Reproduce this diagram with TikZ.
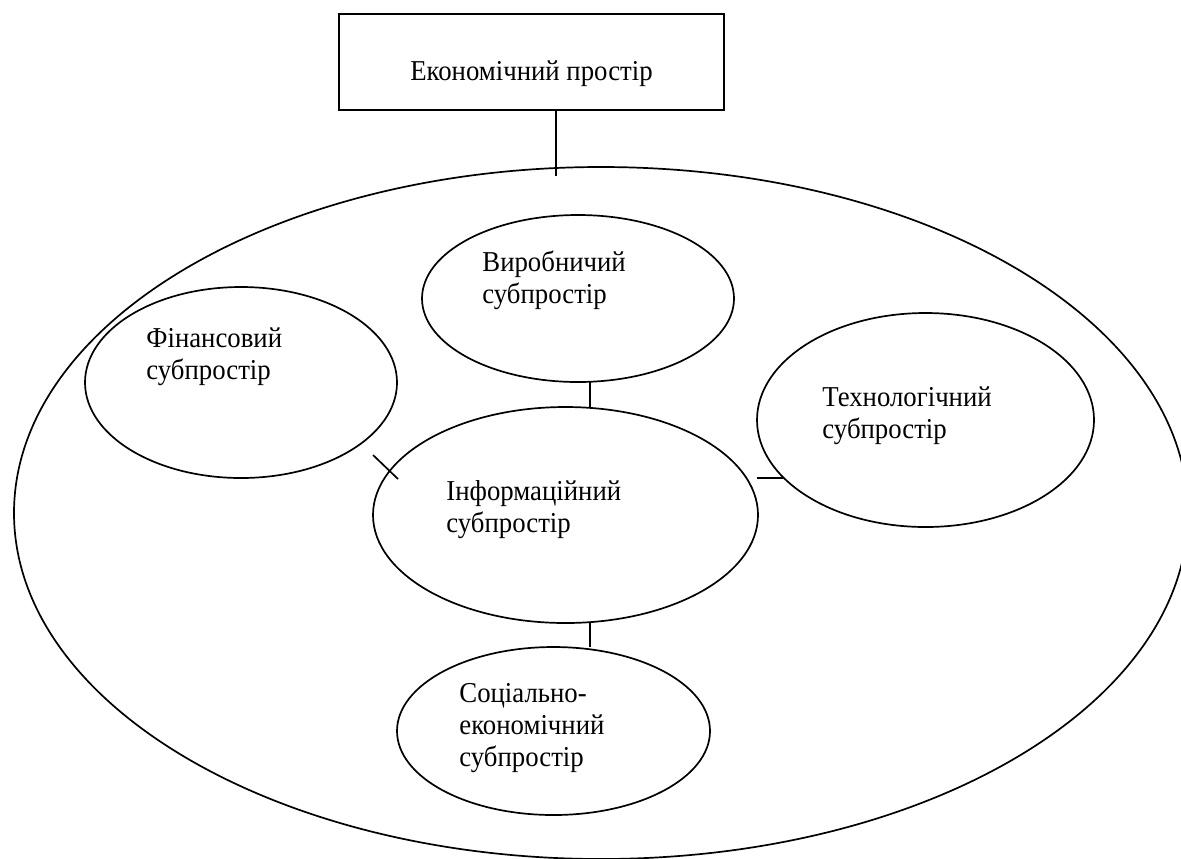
\documentclass[tikz,border=0pt]{standalone}
\usepackage{fontspec}
\setmainfont{Liberation Serif}[FakeStretch=0.93]
\usetikzlibrary{shapes.geometric}
\newcommand{\twoline}[2]{\begin{tabular}[t]{@{}l@{}}#1\\#2\end{tabular}}
\newcommand{\threeline}[3]{\begin{tabular}[t]{@{}l@{}}#1\\#2\\#3\end{tabular}}
\begin{document}
\begin{tikzpicture}[x=0.5pt,y=-0.5pt,
  ln/.style={line width=0.85pt, draw=black},
  oval/.style={ellipse, ln, inner sep=0pt, outer sep=0pt},
  lbl/.style={anchor=base west, inner sep=0pt, font=\fontsize{14.4}{16}\selectfont},
]
\useasboundingbox (0,0) rectangle (1181,858);
\clip (0,0) rectangle (1181,858);
% top box
\node[ln, rectangle, minimum width=192.5pt, minimum height=48pt, inner sep=0pt, outer sep=0pt,
      text height=20pt, text depth=2pt, font=\fontsize{14.4}{16}\selectfont] (eco) at (531.5,62) {Економічний простір};
% outer ellipse
\node[oval, minimum width=587pt, minimum height=346pt] (big) at (601,513) {};
% sub-spaces
\node[oval, minimum width=156pt, minimum height=83.5pt] (prod) at (578,298.5) {};
\node[oval, minimum width=156pt, minimum height=95.5pt] (fin) at (241,382.5) {};
\node[oval, minimum width=168.5pt, minimum height=107pt] (tech) at (925.5,420) {};
\node[oval, minimum width=192.5pt, minimum height=108pt] (info) at (565.5,515) {};
\node[oval, minimum width=156.5pt, minimum height=84pt] (soc) at (553.5,731) {};
% labels
\node[lbl] (prodt) at (482,271) {\twoline{Виробничий}{субпростір}};
\node[lbl] (fint) at (146,347) {\twoline{Фінансовий}{субпростір}};
\node[lbl] (techt) at (822,406) {\twoline{Технологічний}{субпростір}};
\node[lbl] (infot) at (446,500) {\twoline{Інформаційний}{субпростір}};
\node[lbl] (soct) at (459,702) {\threeline{Соціально-}{економічний}{субпростір}};
% connectors
\coordinate (ecoend) at (556,176);
\coordinate (vx) at (590,0);
\coordinate (d1) at (373,455);
\coordinate (d2) at (398,479);
\coordinate (h1) at (757,478);
\coordinate (h2) at (783,478);
\draw[ln] (eco.south -| ecoend) -- (ecoend);
\draw[ln] (prod.south -| vx) -- (info.north -| vx);
\draw[ln] (d1) -- (d2);
\draw[ln] (h1) -- (h2);
\draw[ln] (info.south -| vx) -- (soc.north -| vx);
\end{tikzpicture}
\end{document}
